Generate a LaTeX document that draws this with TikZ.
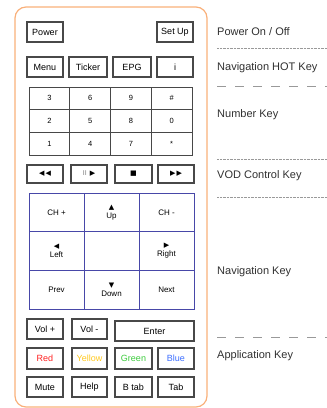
\documentclass[tikz,border=0pt]{standalone}
\usepackage{fontspec}
\setmainfont{Liberation Sans}
\newfontfamily\symfont{DejaVu Sans}
\usetikzlibrary{positioning}
\definecolor{remoteorange}{HTML}{F9B07A}
\definecolor{navblue}{HTML}{4848A8}
\definecolor{keygray}{HTML}{484848}
\definecolor{labelgray}{HTML}{303030}
\definecolor{keyred}{HTML}{FF2020}
\definecolor{keyyellow}{HTML}{FFC81E}
\definecolor{keygreen}{HTML}{3CCB3C}
\definecolor{keyblue}{HTML}{3C6EFF}
\newcommand{\tri}[1]{{\symfont\fontsize{7}{7}\selectfont #1}}

\begin{document}
\begin{tikzpicture}[x=1pt, y=-1pt,
    btn/.style     = {rectangle, draw=keygray, line width=1.1pt, minimum width=36pt,
                      minimum height=20pt, inner sep=0pt, font=\fontsize{9}{10}\selectfont},
    numcell/.style = {rectangle, draw=keygray, line width=0.8pt, minimum width=40.75pt,
                      minimum height=22.67pt, inner sep=0pt, font=\fontsize{7.5}{8}\selectfont},
    navcell/.style = {rectangle, draw=navblue, line width=0.8pt, minimum width=55pt,
                      minimum height=38.67pt, inner sep=0pt, align=center,
                      font=\fontsize{8}{9}\selectfont},
    keylbl/.style  = {anchor=west, inner sep=0pt, text=labelgray, font=\fontsize{11}{12}\selectfont},
    dotsep/.style  = {gray!80, line width=0.4pt, densely dotted},
    gapsep/.style  = {gray!80, line width=0.4pt, dash pattern=on 9pt off 9pt}
  ]
  \useasboundingbox (0,0) rectangle (327,408);

  % ── Remote body ──────────────────────────────────────────────────────────
  \draw[remoteorange, line width=1.2pt, rounded corners=11pt] (15,7) rectangle (207,407);

  % ── Power row ────────────────────────────────────────────────────────────
  \node[btn] (power) at (45,32)  {Power};
  \node[btn] (setup) at (175,32) {Set Up};

  % ── Hot keys ─────────────────────────────────────────────────────────────
  \node[btn]                     (menu)   at (45,67)  {Menu};
  \node[btn, minimum width=38pt] (ticker) at (88,67)  {Ticker};
  \node[btn, minimum width=38pt] (epg)    at (132,67) {EPG};
  \node[btn]                     (info)   at (175,67) {i};

  % ── Number keys ──────────────────────────────────────────────────────────
  \foreach \row/\keys in {0/{3,6,9,\#}, 1/{2,5,8,0}, 2/{1,4,7,*}}
    \foreach \k [count=\c from 0] in \keys
      \node[numcell] (num-\row-\c) at (49.4+40.75*\c, 98.3+22.67*\row) {\k};

  % ── VOD control ──────────────────────────────────────────────────────────
  \node[btn, minimum height=18pt]                     (rew)   at (45,174)    {\tri{◀\,◀}};
  \node[btn, minimum height=18pt]                     (play)  at (89,174)    {{\color{gray}\fontsize{7}{7}\selectfont II}\,\,\tri{▶}};
  \node[btn, minimum height=18pt, minimum width=37pt] (stop)  at (133.5,174) {\tri{■}};
  \node[btn, minimum height=18pt]                     (ffwd)  at (176,174)   {\tri{▶\,▶}};

  % ── Navigation keys ──────────────────────────────────────────────────────
  \node[navcell] (chup)  at (56.5,212.3)  {CH +};
  \node[navcell] (up)    at (111.5,212.3) {\tri{▲}\\Up};
  \node[navcell] (chdn)  at (166.5,212.3) {CH -};
  \node[navcell] (left)  at (56.5,251)    {\tri{◀}\\Left};
  \node[navcell] (mid)   at (111.5,251)   {};
  \node[navcell] (right) at (166.5,251)   {\tri{▶}\\Right};
  \node[navcell] (prev)  at (56.5,289.7)  {Prev};
  \node[navcell] (down)  at (111.5,289.7) {\tri{▼}\\Down};
  \node[navcell] (next)  at (166.5,289.7) {Next};

  % ── Application keys ─────────────────────────────────────────────────────
  \node[btn]                     (volup) at (45,329)    {Vol +};
  \node[btn, minimum width=35pt] (voldn) at (89.5,329)  {Vol -};
  \node[btn, minimum width=79pt] (enter) at (154.5,331) {Enter};

  \node[btn, minimum height=21pt, text=keyred]                         (red)    at (45,358.5)    {Red};
  \node[btn, minimum height=21pt, minimum width=35pt, text=keyyellow]  (yellow) at (89.5,358.5)  {Yellow};
  \node[btn, minimum height=21pt, minimum width=37pt, text=keygreen]   (green)  at (133.5,358.5) {Green};
  \node[btn, minimum height=21pt, text=keyblue]                        (blue)   at (176,358.5)   {Blue};

  \node[btn]                     (mute) at (45,387)    {Mute};
  \node[btn, minimum width=35pt] (help) at (89.5,387)  {Help};
  \node[btn, minimum width=37pt] (btab) at (133.5,387) {B tab};
  \node[btn]                     (tab)  at (176,387)   {Tab};

  % ── Key group labels ─────────────────────────────────────────────────────
  \node[keylbl] (l-power) at (217,32)  {Power On / Off};
  \node[keylbl] (l-hot)   at (217,68)  {Navigation HOT Key};
  \node[keylbl] (l-num)   at (217,115) {Number Key};
  \node[keylbl] (l-vod)   at (217,176) {VOD Control Key};
  \node[keylbl] (l-nav)   at (217,272) {Navigation Key};
  \node[keylbl] (l-app)   at (217,356) {Application Key};

  % ── Group separators ─────────────────────────────────────────────────────
  \draw[dotsep] (217,48)  -- (327,48);
  \draw[gapsep] (217,86)  -- (327,86);
  \draw[dotsep] (217,159) -- (327,159);
  \draw[dotsep] (217,197) -- (327,197);
  \draw[gapsep] (217,337) -- (327,337);
\end{tikzpicture}
\end{document}
